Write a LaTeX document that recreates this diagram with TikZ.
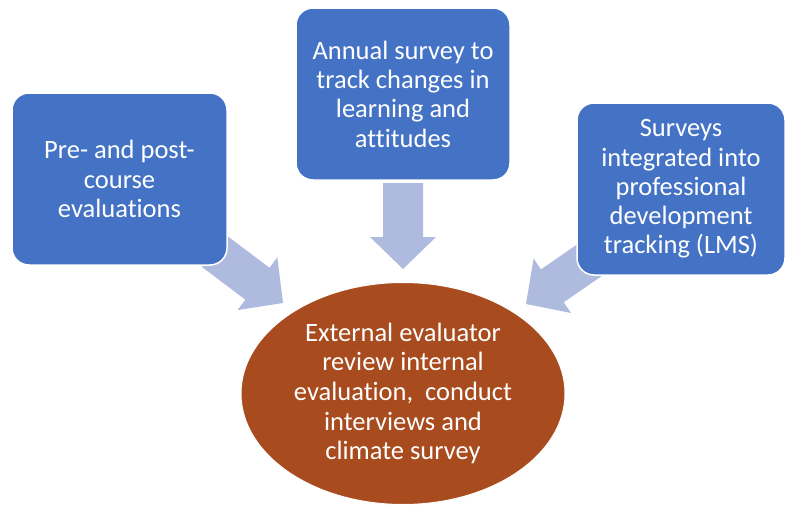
\documentclass[tikz,border=0pt]{standalone}
\usepackage{fontspec}
\setmainfont{Carlito}[Ligatures={NoCommon}]
\usetikzlibrary{calc,shapes.geometric,backgrounds}

\definecolor{boxblue}{RGB}{68,114,196}
\definecolor{arrowblue}{RGB}{175,187,222}
\definecolor{rust}{RGB}{168,75,30}

\tikzset{
  stagebox/.style={rectangle, rounded corners=17pt, fill=boxblue, draw=white,
    line width=1.5pt, text=white, align=center, inner sep=0pt,
    minimum height=172pt, font=\fontsize{26.5}{29.3}\selectfont},
  hubnode/.style={ellipse, fill=rust, draw=white, line width=1pt, text=white,
    align=center, inner sep=0pt, minimum width=324pt, minimum height=222pt,
    font=\fontsize{26.5}{29.6}\selectfont},
  arrowfill/.style={fill=arrowblue, draw=none}
}

% block arrow from #1 (tail centre) to #2 (tip)
\newcommand\blockarrow[2]{%
  \coordinate (hb) at ($(#2)!32pt!(#1)$);
  \path[arrowfill]
    ($(#1)!20pt!90:(#2)$) -- ($(hb)!20pt!90:(#2)$) -- ($(hb)!33pt!90:(#2)$)
    -- (#2)
    -- ($(hb)!33pt!-90:(#2)$) -- ($(hb)!20pt!-90:(#2)$) -- ($(#1)!20pt!-90:(#2)$)
    -- cycle;
}

\begin{document}
\begin{tikzpicture}[x=1pt,y=-1pt]
  \useasboundingbox (0,0) rectangle (785,506);

  \node[stagebox, minimum width=215pt] (pre) at (119.5,179)
    {Pre- and post-\\course\\evaluations};
  \node[stagebox, minimum width=214pt] (annual) at (403,94)
    {Annual survey to\\track changes in\\learning and\\attitudes};
  \node[stagebox, minimum width=208pt] (lms) at (681,189)
    {Surveys\\integrated into\\professional\\development\\tracking (LMS)};
  \node[hubnode] (hub) at (403,393.5)
    {External evaluator\\review internal\\evaluation,\ \ conduct\\interviews and\\climate survey};

  % tails sit under the boxes, tips stop short of the ellipse
  \coordinate (preTail) at (214,251);
  \coordinate (preTip) at (283,303);
  \coordinate (annualTail) at (403,183);
  \coordinate (annualTip) at (403,269);
  \coordinate (lmsTail) at (597,255);
  \coordinate (lmsTip) at (526,304);

  \begin{scope}[on background layer]
    \blockarrow{preTail}{preTip}
    \blockarrow{annualTail}{annualTip}
    \blockarrow{lmsTail}{lmsTip}
  \end{scope}
\end{tikzpicture}
\end{document}
